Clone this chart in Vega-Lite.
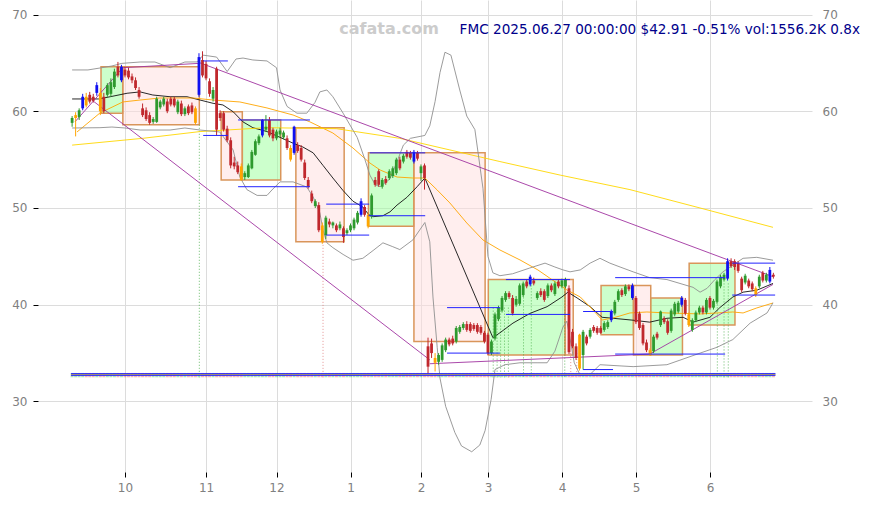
{
"$schema": "https://vega.github.io/schema/vega-lite/v6.json",
"width": 774, "height": 472,
"autosize": {"type": "none"},
"padding": {"left": 38, "top": 0, "right": 58, "bottom": 35},
"background": "white",
"config": {"view": {"stroke": null}, "font": "DejaVu Sans", "scale": {"continuousPadding": 0}},
"datasets": {
"candles": [
{"i":0,"o":58.8,"h":59.5,"l":58.4,"c":59.3,"t":"up"},
{"i":1,"o":59.3,"h":59.9,"l":57.4,"c":59.6,"t":"orange"},
{"i":2,"o":59.4,"h":60.3,"l":59.1,"c":60.1,"t":"up"},
{"i":3,"o":60.3,"h":61.8,"l":60.1,"c":61.5,"t":"blue"},
{"i":4,"o":61.5,"h":61.9,"l":60.4,"c":60.6,"t":"orange"},
{"i":5,"o":61.7,"h":62.0,"l":60.8,"c":61.0,"t":"down"},
{"i":6,"o":61.5,"h":61.8,"l":60.9,"c":61.1,"t":"down"},
{"i":7,"o":61.9,"h":63.0,"l":61.6,"c":62.7,"t":"blue"},
{"i":8,"o":61.9,"h":62.4,"l":59.6,"c":60.0,"t":"orange"},
{"i":9,"o":61.5,"h":61.9,"l":59.8,"c":60.0,"t":"down"},
{"i":10,"o":61.7,"h":62.9,"l":61.5,"c":62.7,"t":"up"},
{"i":11,"o":61.8,"h":63.4,"l":61.5,"c":63.0,"t":"up"},
{"i":12,"o":62.5,"h":64.4,"l":62.3,"c":64.1,"t":"up"},
{"i":13,"o":64.6,"h":65.1,"l":63.5,"c":63.7,"t":"down"},
{"i":14,"o":63.2,"h":64.8,"l":63.0,"c":64.6,"t":"blue"},
{"i":15,"o":64.3,"h":64.6,"l":63.5,"c":63.7,"t":"down"},
{"i":16,"o":64.2,"h":64.5,"l":63.3,"c":63.5,"t":"down"},
{"i":17,"o":63.6,"h":63.9,"l":62.9,"c":63.2,"t":"down"},
{"i":18,"o":63.2,"h":63.5,"l":62.2,"c":62.4,"t":"down"},
{"i":19,"o":62.2,"h":62.5,"l":61.3,"c":61.5,"t":"down"},
{"i":20,"o":60.3,"h":60.8,"l":59.4,"c":59.6,"t":"down"},
{"i":21,"o":60.1,"h":60.4,"l":59.0,"c":59.2,"t":"down"},
{"i":22,"o":59.6,"h":59.9,"l":58.6,"c":58.8,"t":"down"},
{"i":23,"o":58.9,"h":59.4,"l":58.7,"c":59.2,"t":"up"},
{"i":24,"o":58.9,"h":61.5,"l":58.8,"c":61.3,"t":"up"},
{"i":25,"o":60.4,"h":61.2,"l":60.2,"c":61.0,"t":"up"},
{"i":26,"o":60.7,"h":61.5,"l":60.5,"c":61.3,"t":"up"},
{"i":27,"o":61.0,"h":61.3,"l":59.8,"c":60.0,"t":"down"},
{"i":28,"o":61.3,"h":61.5,"l":60.5,"c":60.7,"t":"down"},
{"i":29,"o":61.3,"h":61.5,"l":60.4,"c":60.6,"t":"down"},
{"i":30,"o":59.9,"h":61.2,"l":59.7,"c":61.0,"t":"up"},
{"i":31,"o":60.8,"h":61.1,"l":59.5,"c":59.7,"t":"down"},
{"i":32,"o":59.7,"h":60.5,"l":59.5,"c":60.3,"t":"up"},
{"i":33,"o":60.5,"h":60.7,"l":59.6,"c":59.8,"t":"down"},
{"i":34,"o":60.6,"h":60.9,"l":59.7,"c":59.9,"t":"down"},
{"i":35,"o":60.3,"h":60.5,"l":58.6,"c":58.8,"t":"orange"},
{"i":36,"o":61.7,"h":66.0,"l":61.5,"c":65.6,"t":"blue"},
{"i":37,"o":65.3,"h":66.2,"l":63.5,"c":63.7,"t":"down"},
{"i":38,"o":64.9,"h":65.2,"l":63.2,"c":63.4,"t":"down"},
{"i":39,"o":63.1,"h":63.4,"l":61.5,"c":61.8,"t":"down"},
{"i":40,"o":61.3,"h":62.5,"l":61.0,"c":62.2,"t":"up"},
{"i":41,"o":64.4,"h":64.6,"l":57.5,"c":58.1,"t":"down"},
{"i":42,"o":59.8,"h":60.1,"l":59.0,"c":59.3,"t":"down"},
{"i":43,"o":59.8,"h":60.0,"l":57.9,"c":58.1,"t":"down"},
{"i":44,"o":58.2,"h":58.5,"l":56.8,"c":57.0,"t":"down"},
{"i":45,"o":57.0,"h":57.3,"l":54.1,"c":54.4,"t":"down"},
{"i":46,"o":54.7,"h":55.3,"l":54.0,"c":54.3,"t":"down"},
{"i":47,"o":54.4,"h":54.8,"l":53.5,"c":53.7,"t":"down"},
{"i":48,"o":54.3,"h":54.6,"l":52.8,"c":52.9,"t":"orange"},
{"i":49,"o":53.2,"h":53.8,"l":52.9,"c":53.6,"t":"up"},
{"i":50,"o":53.2,"h":54.6,"l":53.1,"c":54.4,"t":"up"},
{"i":51,"o":54.1,"h":56.0,"l":54.0,"c":55.8,"t":"up"},
{"i":52,"o":55.5,"h":57.1,"l":55.4,"c":56.9,"t":"up"},
{"i":53,"o":56.7,"h":57.6,"l":56.5,"c":57.4,"t":"up"},
{"i":54,"o":57.5,"h":59.2,"l":57.3,"c":59.1,"t":"blue"},
{"i":55,"o":58.1,"h":59.6,"l":57.9,"c":58.4,"t":"up"},
{"i":56,"o":59.1,"h":59.4,"l":57.3,"c":57.5,"t":"down"},
{"i":57,"o":58.1,"h":58.3,"l":56.9,"c":57.2,"t":"down"},
{"i":58,"o":57.2,"h":58.1,"l":57.0,"c":57.9,"t":"up"},
{"i":59,"o":57.6,"h":58.3,"l":57.3,"c":58.0,"t":"up"},
{"i":60,"o":57.3,"h":58.0,"l":57.1,"c":57.8,"t":"up"},
{"i":61,"o":57.2,"h":57.5,"l":56.0,"c":56.2,"t":"down"},
{"i":62,"o":56.2,"h":56.5,"l":54.8,"c":55.0,"t":"orange"},
{"i":63,"o":55.7,"h":58.5,"l":55.5,"c":58.4,"t":"blue"},
{"i":64,"o":56.5,"h":56.8,"l":55.7,"c":55.9,"t":"down"},
{"i":65,"o":56.2,"h":56.5,"l":54.8,"c":55.0,"t":"down"},
{"i":66,"o":54.7,"h":55.0,"l":52.9,"c":53.1,"t":"down"},
{"i":67,"o":52.9,"h":53.2,"l":52.0,"c":52.2,"t":"down"},
{"i":68,"o":51.5,"h":51.8,"l":50.5,"c":50.7,"t":"down"},
{"i":69,"o":50.2,"h":50.9,"l":50.0,"c":50.7,"t":"up"},
{"i":70,"o":50.3,"h":50.6,"l":47.5,"c":47.7,"t":"down"},
{"i":71,"o":48.2,"h":48.5,"l":46.3,"c":46.5,"t":"orange"},
{"i":72,"o":47.2,"h":49.2,"l":46.8,"c":49.0,"t":"up"},
{"i":73,"o":48.6,"h":48.9,"l":48.0,"c":48.3,"t":"down"},
{"i":74,"o":48.2,"h":48.6,"l":47.9,"c":48.5,"t":"up"},
{"i":75,"o":48.2,"h":48.4,"l":47.5,"c":47.7,"t":"down"},
{"i":76,"o":47.9,"h":48.6,"l":47.7,"c":48.3,"t":"up"},
{"i":77,"o":47.9,"h":48.1,"l":46.4,"c":47.0,"t":"down"},
{"i":78,"o":47.4,"h":47.9,"l":47.2,"c":47.7,"t":"up"},
{"i":79,"o":47.7,"h":48.4,"l":47.5,"c":48.2,"t":"up"},
{"i":80,"o":47.9,"h":49.0,"l":47.7,"c":48.8,"t":"up"},
{"i":81,"o":48.5,"h":49.7,"l":48.3,"c":49.5,"t":"up"},
{"i":82,"o":49.3,"h":51.0,"l":49.1,"c":50.7,"t":"blue"},
{"i":83,"o":50.1,"h":50.3,"l":49.1,"c":49.3,"t":"down"},
{"i":84,"o":49.3,"h":49.5,"l":47.9,"c":48.1,"t":"orange"},
{"i":85,"o":49.1,"h":51.5,"l":48.9,"c":51.3,"t":"up"},
{"i":86,"o":52.9,"h":53.2,"l":52.2,"c":52.4,"t":"down"},
{"i":87,"o":53.8,"h":54.0,"l":52.2,"c":52.4,"t":"down"},
{"i":88,"o":52.2,"h":53.1,"l":52.0,"c":52.9,"t":"up"},
{"i":89,"o":53.0,"h":53.3,"l":52.4,"c":52.6,"t":"down"},
{"i":90,"o":53.1,"h":54.0,"l":52.9,"c":53.8,"t":"up"},
{"i":91,"o":53.3,"h":54.3,"l":53.1,"c":54.1,"t":"up"},
{"i":92,"o":53.6,"h":55.2,"l":53.4,"c":55.0,"t":"up"},
{"i":93,"o":55.0,"h":55.3,"l":53.9,"c":54.1,"t":"down"},
{"i":94,"o":54.8,"h":55.6,"l":54.6,"c":55.4,"t":"up"},
{"i":95,"o":55.8,"h":56.0,"l":55.1,"c":55.3,"t":"down"},
{"i":96,"o":55.7,"h":55.9,"l":55.0,"c":55.2,"t":"down"},
{"i":97,"o":54.8,"h":56.0,"l":54.6,"c":55.8,"t":"blue"},
{"i":98,"o":55.7,"h":55.9,"l":54.9,"c":55.1,"t":"down"},
{"i":99,"o":53.6,"h":54.5,"l":52.8,"c":54.3,"t":"up"},
{"i":100,"o":54.4,"h":54.6,"l":51.9,"c":53.1,"t":"down"},
{"i":101,"o":35.7,"h":36.6,"l":32.9,"c":33.6,"t":"down"},
{"i":102,"o":36.0,"h":36.5,"l":34.5,"c":35.0,"t":"down"},
{"i":103,"o":34.5,"h":35.0,"l":33.1,"c":34.0,"t":"orange"},
{"i":104,"o":34.1,"h":35.0,"l":33.8,"c":34.8,"t":"up"},
{"i":105,"o":34.3,"h":36.0,"l":34.1,"c":35.8,"t":"up"},
{"i":106,"o":35.3,"h":36.6,"l":35.1,"c":36.4,"t":"up"},
{"i":107,"o":36.4,"h":36.6,"l":35.7,"c":35.9,"t":"down"},
{"i":108,"o":36.5,"h":36.8,"l":35.8,"c":36.0,"t":"down"},
{"i":109,"o":36.2,"h":37.8,"l":36.0,"c":37.6,"t":"up"},
{"i":110,"o":37.2,"h":37.9,"l":37.0,"c":37.7,"t":"up"},
{"i":111,"o":37.6,"h":38.2,"l":37.4,"c":38.0,"t":"up"},
{"i":112,"o":38.0,"h":38.3,"l":37.2,"c":37.4,"t":"down"},
{"i":113,"o":38.0,"h":38.2,"l":37.1,"c":37.3,"t":"down"},
{"i":114,"o":37.9,"h":38.1,"l":37.3,"c":37.5,"t":"down"},
{"i":115,"o":37.9,"h":38.1,"l":37.0,"c":37.2,"t":"down"},
{"i":116,"o":37.7,"h":37.9,"l":36.9,"c":37.1,"t":"down"},
{"i":117,"o":37.1,"h":37.3,"l":36.0,"c":36.2,"t":"down"},
{"i":118,"o":36.9,"h":37.1,"l":34.8,"c":35.0,"t":"down"},
{"i":119,"o":35.0,"h":36.4,"l":34.8,"c":36.2,"t":"up"},
{"i":120,"o":36.5,"h":39.2,"l":36.3,"c":39.0,"t":"up"},
{"i":121,"o":38.5,"h":39.9,"l":38.3,"c":39.7,"t":"up"},
{"i":122,"o":39.4,"h":40.9,"l":39.2,"c":40.7,"t":"up"},
{"i":123,"o":40.5,"h":41.4,"l":40.3,"c":41.2,"t":"up"},
{"i":124,"o":41.2,"h":41.4,"l":40.6,"c":40.8,"t":"down"},
{"i":125,"o":40.7,"h":41.0,"l":38.9,"c":39.1,"t":"down"},
{"i":126,"o":40.0,"h":40.9,"l":39.8,"c":40.6,"t":"up"},
{"i":127,"o":40.1,"h":42.2,"l":39.9,"c":42.0,"t":"up"},
{"i":128,"o":41.0,"h":42.4,"l":40.8,"c":42.2,"t":"up"},
{"i":129,"o":42.4,"h":42.6,"l":41.7,"c":41.9,"t":"down"},
{"i":130,"o":42.1,"h":43.1,"l":41.9,"c":42.9,"t":"blue"},
{"i":131,"o":42.5,"h":42.8,"l":42.0,"c":42.2,"t":"down"},
{"i":132,"o":40.7,"h":41.4,"l":40.5,"c":41.2,"t":"up"},
{"i":133,"o":41.4,"h":41.7,"l":40.8,"c":41.0,"t":"down"},
{"i":134,"o":41.4,"h":41.6,"l":40.3,"c":40.5,"t":"down"},
{"i":135,"o":40.9,"h":42.2,"l":40.7,"c":42.0,"t":"up"},
{"i":136,"o":42.0,"h":42.2,"l":41.3,"c":41.5,"t":"down"},
{"i":137,"o":41.1,"h":42.4,"l":40.9,"c":42.2,"t":"up"},
{"i":138,"o":42.4,"h":42.6,"l":41.7,"c":41.9,"t":"down"},
{"i":139,"o":41.9,"h":42.7,"l":41.7,"c":42.5,"t":"up"},
{"i":140,"o":41.9,"h":42.8,"l":41.7,"c":42.6,"t":"up"},
{"i":141,"o":41.7,"h":42.0,"l":34.9,"c":35.1,"t":"down"},
{"i":142,"o":37.2,"h":37.5,"l":35.5,"c":35.7,"t":"down"},
{"i":143,"o":35.7,"h":36.0,"l":34.3,"c":34.5,"t":"down"},
{"i":144,"o":36.9,"h":37.0,"l":33.2,"c":33.4,"t":"orange"},
{"i":145,"o":34.8,"h":37.4,"l":33.3,"c":37.2,"t":"up"},
{"i":146,"o":36.7,"h":36.9,"l":35.8,"c":36.0,"t":"down"},
{"i":147,"o":36.7,"h":37.6,"l":36.5,"c":37.4,"t":"up"},
{"i":148,"o":37.7,"h":37.9,"l":37.1,"c":37.3,"t":"down"},
{"i":149,"o":37.6,"h":37.8,"l":36.9,"c":37.1,"t":"down"},
{"i":150,"o":37.6,"h":37.8,"l":37.0,"c":37.1,"t":"down"},
{"i":151,"o":37.4,"h":38.3,"l":37.2,"c":38.1,"t":"up"},
{"i":152,"o":37.7,"h":38.4,"l":37.5,"c":38.2,"t":"up"},
{"i":153,"o":38.4,"h":39.5,"l":38.2,"c":39.3,"t":"blue"},
{"i":154,"o":39.1,"h":40.5,"l":38.9,"c":40.3,"t":"up"},
{"i":155,"o":40.5,"h":41.6,"l":40.3,"c":41.4,"t":"up"},
{"i":156,"o":41.5,"h":41.7,"l":40.8,"c":41.0,"t":"down"},
{"i":157,"o":41.1,"h":42.1,"l":40.9,"c":41.9,"t":"up"},
{"i":158,"o":41.9,"h":42.1,"l":41.4,"c":41.6,"t":"down"},
{"i":159,"o":40.7,"h":42.2,"l":40.5,"c":42.0,"t":"blue"},
{"i":160,"o":40.7,"h":40.9,"l":38.0,"c":38.2,"t":"down"},
{"i":161,"o":39.1,"h":39.3,"l":37.4,"c":37.6,"t":"down"},
{"i":162,"o":37.9,"h":38.1,"l":35.8,"c":36.0,"t":"down"},
{"i":163,"o":36.1,"h":36.4,"l":35.1,"c":35.3,"t":"down"},
{"i":164,"o":35.3,"h":35.5,"l":34.7,"c":34.8,"t":"orange"},
{"i":165,"o":35.2,"h":36.9,"l":35.0,"c":36.7,"t":"up"},
{"i":166,"o":37.0,"h":37.2,"l":36.4,"c":36.6,"t":"down"},
{"i":167,"o":37.9,"h":39.4,"l":37.7,"c":39.3,"t":"up"},
{"i":168,"o":38.6,"h":38.8,"l":38.0,"c":38.2,"t":"down"},
{"i":169,"o":38.3,"h":38.5,"l":36.9,"c":37.1,"t":"down"},
{"i":170,"o":37.3,"h":39.6,"l":37.1,"c":39.4,"t":"up"},
{"i":171,"o":39.0,"h":40.3,"l":38.8,"c":40.1,"t":"up"},
{"i":172,"o":39.3,"h":40.4,"l":39.1,"c":40.2,"t":"up"},
{"i":173,"o":40.0,"h":40.9,"l":39.8,"c":40.7,"t":"blue"},
{"i":174,"o":40.5,"h":40.7,"l":38.9,"c":39.1,"t":"down"},
{"i":175,"o":39.0,"h":39.2,"l":37.7,"c":37.9,"t":"orange"},
{"i":176,"o":37.4,"h":38.6,"l":37.2,"c":38.4,"t":"up"},
{"i":177,"o":38.4,"h":39.4,"l":38.2,"c":39.2,"t":"up"},
{"i":178,"o":39.2,"h":39.9,"l":39.0,"c":39.7,"t":"up"},
{"i":179,"o":39.7,"h":39.9,"l":39.0,"c":39.2,"t":"down"},
{"i":180,"o":39.2,"h":40.7,"l":39.0,"c":40.5,"t":"up"},
{"i":181,"o":40.7,"h":40.9,"l":39.5,"c":39.7,"t":"down"},
{"i":182,"o":39.7,"h":40.6,"l":39.5,"c":40.4,"t":"up"},
{"i":183,"o":40.3,"h":42.6,"l":40.1,"c":42.4,"t":"up"},
{"i":184,"o":41.9,"h":43.1,"l":41.7,"c":42.9,"t":"up"},
{"i":185,"o":42.6,"h":43.3,"l":42.4,"c":43.1,"t":"up"},
{"i":186,"o":42.7,"h":44.8,"l":42.5,"c":44.5,"t":"blue"},
{"i":187,"o":44.5,"h":44.8,"l":43.8,"c":44.0,"t":"down"},
{"i":188,"o":44.5,"h":44.7,"l":43.6,"c":43.9,"t":"down"},
{"i":189,"o":44.3,"h":44.5,"l":43.3,"c":43.5,"t":"down"},
{"i":190,"o":42.7,"h":42.9,"l":41.3,"c":41.5,"t":"down"},
{"i":191,"o":42.3,"h":43.2,"l":42.1,"c":43.0,"t":"up"},
{"i":192,"o":42.5,"h":42.7,"l":41.7,"c":41.9,"t":"down"},
{"i":193,"o":42.2,"h":42.4,"l":41.4,"c":41.6,"t":"down"},
{"i":194,"o":41.7,"h":41.9,"l":40.8,"c":41.0,"t":"orange"},
{"i":195,"o":41.9,"h":43.1,"l":41.7,"c":42.9,"t":"up"},
{"i":196,"o":43.3,"h":43.5,"l":42.3,"c":42.5,"t":"down"},
{"i":197,"o":42.5,"h":43.3,"l":42.3,"c":43.1,"t":"up"},
{"i":198,"o":42.4,"h":43.9,"l":42.2,"c":43.6,"t":"blue"},
{"i":199,"o":43.1,"h":43.3,"l":42.7,"c":42.91,"t":"down"}
],
"lines": [
{"s":"ma","i":0,"v":61.27},{"s":"ma","i":7.5,"v":61.27},{"s":"ma","i":10.8,"v":61.5},{"s":"ma","i":15.6,"v":61.86},{"s":"ma","i":19.3,"v":62.0},{"s":"ma","i":22.9,"v":61.68},{"s":"ma","i":27.8,"v":61.5},{"s":"ma","i":32.6,"v":61.5},{"s":"ma","i":36.3,"v":61.16},{"s":"ma","i":40,"v":60.82},{"s":"ma","i":42.8,"v":60.65},{"s":"ma","i":45.7,"v":59.95},{"s":"ma","i":48.5,"v":58.9},{"s":"ma","i":51.3,"v":58.3},{"s":"ma","i":55.3,"v":57.9},{"s":"ma","i":59,"v":57.3},{"s":"ma","i":62.7,"v":56.7},{"s":"ma","i":65.5,"v":56.3},{"s":"ma","i":68.4,"v":55.7},{"s":"ma","i":71.2,"v":54.4},{"s":"ma","i":74,"v":53.1},{"s":"ma","i":76.9,"v":51.8},{"s":"ma","i":79.7,"v":50.7},{"s":"ma","i":82.5,"v":50.1},{"s":"ma","i":84.2,"v":49.3},{"s":"ma","i":85.4,"v":49.1},{"s":"ma","i":88.2,"v":49.2},{"s":"ma","i":90.2,"v":49.6},{"s":"ma","i":92.2,"v":50.3},{"s":"ma","i":95,"v":51.1},{"s":"ma","i":97.9,"v":52.2},{"s":"ma","i":100.1,"v":53.1},{"s":"ma","i":119.4,"v":36.6},{"s":"ma","i":121.4,"v":37.1},{"s":"ma","i":125.1,"v":38.1},{"s":"ma","i":129.9,"v":39.1},{"s":"ma","i":134.8,"v":39.8},{"s":"ma","i":139,"v":40.8},{"s":"ma","i":140.7,"v":41.3},{"s":"ma","i":143.3,"v":40.7},{"s":"ma","i":147,"v":39.8},{"s":"ma","i":150.4,"v":38.7},{"s":"ma","i":153.5,"v":38.6},{"s":"ma","i":159.2,"v":38.4},{"s":"ma","i":163.9,"v":38.2},{"s":"ma","i":168.8,"v":38.6},{"s":"ma","i":173.4,"v":38.7},{"s":"ma","i":176.2,"v":38.2},{"s":"ma","i":181,"v":38.7},{"s":"ma","i":183.8,"v":39.7},{"s":"ma","i":187.5,"v":40.8},{"s":"ma","i":190.4,"v":41.3},{"s":"ma","i":194.3,"v":41.5},{"s":"ma","i":198.9,"v":42.2},
{"s":"mb","i":1.4,"v":57.86},{"s":"mb","i":7.9,"v":59.82},{"s":"mb","i":14.4,"v":60.96},{"s":"mb","i":19.3,"v":61.16},{"s":"mb","i":24.9,"v":61.37},{"s":"mb","i":34.3,"v":61.37},{"s":"mb","i":40,"v":61.16},{"s":"mb","i":47.6,"v":60.96},{"s":"mb","i":55.3,"v":60.34},{"s":"mb","i":62.7,"v":59.61},{"s":"mb","i":67.5,"v":58.9},{"s":"mb","i":74,"v":57.75},{"s":"mb","i":79.7,"v":56.2},{"s":"mb","i":84.5,"v":54.65},{"s":"mb","i":87.4,"v":53.93},{"s":"mb","i":92.2,"v":53.2},{"s":"mb","i":96.7,"v":53.1},{"s":"mb","i":100.1,"v":53.1},{"s":"mb","i":103.6,"v":51.86},{"s":"mb","i":107.2,"v":50.52},{"s":"mb","i":112,"v":48.45},{"s":"mb","i":116.6,"v":46.69},{"s":"mb","i":121.4,"v":45.66},{"s":"mb","i":127.1,"v":44.63},{"s":"mb","i":132.2,"v":43.59},{"s":"mb","i":140.4,"v":41.53},{"s":"mb","i":144.2,"v":40.8},{"s":"mb","i":147,"v":39.77},{"s":"mb","i":150.4,"v":38.42},{"s":"mb","i":153.5,"v":38.63},{"s":"mb","i":158.3,"v":39.15},{"s":"mb","i":163.1,"v":39.25},{"s":"mb","i":168.8,"v":39.15},{"s":"mb","i":178.2,"v":39.05},{"s":"mb","i":183,"v":39.15},{"s":"mb","i":187.5,"v":39.25},{"s":"mb","i":190.4,"v":39.15},{"s":"mb","i":194.3,"v":39.67},{"s":"mb","i":198.9,"v":40.18},
{"s":"mc","i":0,"v":56.5},{"s":"mc","i":20,"v":57.2},{"s":"mc","i":36.3,"v":57.9},{"s":"mc","i":55,"v":58.3},{"s":"mc","i":75,"v":58.2},{"s":"mc","i":93,"v":57.2},{"s":"mc","i":107.2,"v":56.0},{"s":"mc","i":121.4,"v":54.8},{"s":"mc","i":138.5,"v":53.4},{"s":"mc","i":158.3,"v":51.9},{"s":"mc","i":178.2,"v":50.0},{"s":"mc","i":198.9,"v":48.0},
{"s":"bu","i":0,"v":64.27},{"s":"bu","i":4.5,"v":64.27},{"s":"bu","i":7.9,"v":64.47},{"s":"bu","i":11.3,"v":64.68},{"s":"bu","i":14.1,"v":64.95},{"s":"bu","i":19.3,"v":65.09},{"s":"bu","i":23.5,"v":65.09},{"s":"bu","i":27.8,"v":64.5},{"s":"bu","i":32,"v":65.09},{"s":"bu","i":35.5,"v":65.1},{"s":"bu","i":37.2,"v":65.8},{"s":"bu","i":41,"v":65.6},{"s":"bu","i":44,"v":64.1},{"s":"bu","i":46.5,"v":65.4},{"s":"bu","i":48.5,"v":65.5},{"s":"bu","i":51.3,"v":65.3},{"s":"bu","i":55.3,"v":65.2},{"s":"bu","i":58,"v":64.5},{"s":"bu","i":59,"v":62.2},{"s":"bu","i":61,"v":60.5},{"s":"bu","i":63.8,"v":59.8},{"s":"bu","i":66.6,"v":59.8},{"s":"bu","i":68.9,"v":60.9},{"s":"bu","i":70.3,"v":62.0},{"s":"bu","i":72.3,"v":62.2},{"s":"bu","i":74,"v":61.5},{"s":"bu","i":76.9,"v":59.8},{"s":"bu","i":80.9,"v":57.3},{"s":"bu","i":83.1,"v":55.0},{"s":"bu","i":84.5,"v":53.4},{"s":"bu","i":86,"v":52.4},{"s":"bu","i":87.4,"v":52.2},{"s":"bu","i":90.2,"v":53.0},{"s":"bu","i":92.2,"v":54.8},{"s":"bu","i":94,"v":56.5},{"s":"bu","i":96,"v":57.2},{"s":"bu","i":100.1,"v":57.5},{"s":"bu","i":101.5,"v":58.5},{"s":"bu","i":103,"v":61},{"s":"bu","i":104.4,"v":64},{"s":"bu","i":105.8,"v":66.1},{"s":"bu","i":107.5,"v":65.8},{"s":"bu","i":110,"v":62.2},{"s":"bu","i":112,"v":59.5},{"s":"bu","i":114.3,"v":58.1},{"s":"bu","i":116.6,"v":52},{"s":"bu","i":118,"v":45},{"s":"bu","i":119.4,"v":43.3},{"s":"bu","i":121.4,"v":43.0},{"s":"bu","i":125,"v":43.2},{"s":"bu","i":129.9,"v":43.8},{"s":"bu","i":134.2,"v":44.3},{"s":"bu","i":137,"v":43.9},{"s":"bu","i":139.3,"v":43.6},{"s":"bu","i":141.3,"v":43.4},{"s":"bu","i":144.2,"v":43.6},{"s":"bu","i":147,"v":44.3},{"s":"bu","i":149.8,"v":44.8},{"s":"bu","i":152.6,"v":44.3},{"s":"bu","i":155.5,"v":43.9},{"s":"bu","i":159.2,"v":43.4},{"s":"bu","i":163.9,"v":42.8},{"s":"bu","i":168.8,"v":42.6},{"s":"bu","i":176.2,"v":41.8},{"s":"bu","i":178.2,"v":41.3},{"s":"bu","i":180.2,"v":41.7},{"s":"bu","i":182.4,"v":42.6},{"s":"bu","i":184.7,"v":43.4},{"s":"bu","i":187.5,"v":44.1},{"s":"bu","i":190.4,"v":44.8},{"s":"bu","i":194.3,"v":44.9},{"s":"bu","i":198.9,"v":44.6},
{"s":"bl","i":0,"v":58.27},{"s":"bl","i":7.9,"v":58.3},{"s":"bl","i":11.3,"v":58.37},{"s":"bl","i":15,"v":58.27},{"s":"bl","i":19.3,"v":58.06},{"s":"bl","i":27.8,"v":58.06},{"s":"bl","i":32,"v":58.27},{"s":"bl","i":36.3,"v":58.06},{"s":"bl","i":41.9,"v":57.86},{"s":"bl","i":45.7,"v":56.0},{"s":"bl","i":47.6,"v":53.2},{"s":"bl","i":49.6,"v":51.9},{"s":"bl","i":52.5,"v":51.3},{"s":"bl","i":55.3,"v":51.3},{"s":"bl","i":56.7,"v":51.86},{"s":"bl","i":59,"v":52.7},{"s":"bl","i":62.7,"v":52.7},{"s":"bl","i":66.6,"v":52.17},{"s":"bl","i":68.4,"v":51.14},{"s":"bl","i":70.3,"v":49.5},{"s":"bl","i":71.2,"v":47.7},{"s":"bl","i":72.3,"v":46.4},{"s":"bl","i":74,"v":45.9},{"s":"bl","i":76.9,"v":45.2},{"s":"bl","i":79.7,"v":44.6},{"s":"bl","i":82.5,"v":44.8},{"s":"bl","i":85.4,"v":45.6},{"s":"bl","i":88.2,"v":46.4},{"s":"bl","i":91,"v":46.0},{"s":"bl","i":93,"v":45.7},{"s":"bl","i":96.7,"v":46.7},{"s":"bl","i":100.1,"v":48.5},{"s":"bl","i":101.5,"v":46.5},{"s":"bl","i":102.4,"v":40.8},{"s":"bl","i":103.6,"v":35.6},{"s":"bl","i":104.4,"v":32.4},{"s":"bl","i":106,"v":29.5},{"s":"bl","i":108.6,"v":26.8},{"s":"bl","i":110.5,"v":25.4},{"s":"bl","i":113.4,"v":24.8},{"s":"bl","i":115.7,"v":25.5},{"s":"bl","i":117.2,"v":27},{"s":"bl","i":118.9,"v":30.2},{"s":"bl","i":120,"v":33.3},{"s":"bl","i":122.8,"v":33.8},{"s":"bl","i":127.1,"v":34.0},{"s":"bl","i":132.2,"v":34.0},{"s":"bl","i":134.8,"v":34.0},{"s":"bl","i":137,"v":35.2},{"s":"bl","i":139.3,"v":37.7},{"s":"bl","i":140.4,"v":38.3},{"s":"bl","i":141.3,"v":36.5},{"s":"bl","i":142.5,"v":34.0},{"s":"bl","i":144.2,"v":32.7},{"s":"bl","i":147,"v":32.8},{"s":"bl","i":149.8,"v":33.8},{"s":"bl","i":159.2,"v":33.6},{"s":"bl","i":168.8,"v":33.8},{"s":"bl","i":178.2,"v":35.0},{"s":"bl","i":183,"v":35.6},{"s":"bl","i":187.5,"v":36.4},{"s":"bl","i":192.4,"v":38.1},{"s":"bl","i":197.2,"v":39.15},{"s":"bl","i":198.9,"v":40.2},
{"s":"p1","i":0.8,"v":58.9},{"s":"p1","i":14.4,"v":64.5},
{"s":"p2","i":14.4,"v":64.5},{"s":"p2","i":36.0,"v":64.95},
{"s":"p3","i":36.3,"v":65.0},{"s":"p3","i":198.9,"v":42.9},
{"s":"p4","i":5.6,"v":61.16},{"s":"p4","i":101.5,"v":34.3},
{"s":"p5","i":101.5,"v":33.9},{"s":"p5","i":163.9,"v":34.9},{"s":"p5","i":198.9,"v":42.1}
],
"boxes": [
{"i1":8.2,"i2":14.4,"p1":59.8,"p2":64.6,"f":"g"},
{"i1":14.4,"i2":36.1,"p1":58.6,"p2":64.6,"f":"p"},
{"i1":42.3,"i2":48.3,"p1":52.9,"p2":59.95,"f":"p"},
{"i1":48.3,"i2":59.2,"p1":52.9,"p2":59.1,"f":"g"},
{"i1":63.5,"i2":77.2,"p1":46.5,"p2":58.3,"f":"p"},
{"i1":84.1,"i2":97,"p1":48.1,"p2":55.7,"f":"g"},
{"i1":97,"i2":117.2,"p1":36.2,"p2":55.7,"f":"p"},
{"i1":118.1,"i2":139.9,"p1":34.8,"p2":42.6,"f":"g"},
{"i1":139.9,"i2":142.2,"p1":34.8,"p2":42.6,"f":"p"},
{"i1":150.1,"i2":159.3,"p1":36.9,"p2":42.0,"f":"g"},
{"i1":159.3,"i2":164.2,"p1":34.8,"p2":42.0,"f":"p"},
{"i1":164.2,"i2":173.2,"p1":34.8,"p2":40.7,"f":"g"},
{"i1":175.1,"i2":188.1,"p1":37.9,"p2":44.3,"f":"g"}
],
"segs": [
{"i1":37.2,"i2":44.2,"p":65.2,"k":"b"},{"i1":37.2,"i2":44.2,"p":57.5,"k":"b"},
{"i1":47.1,"i2":67.5,"p":59.1,"k":"b"},{"i1":47.1,"i2":67.5,"p":52.2,"k":"b"},
{"i1":72.1,"i2":84.3,"p":50.4,"k":"b"},{"i1":72.1,"i2":84.3,"p":47.2,"k":"b"},
{"i1":84.5,"i2":100.2,"p":55.7,"k":"b"},{"i1":84.1,"i2":100.2,"p":49.2,"k":"b"},
{"i1":106.4,"i2":121.4,"p":39.7,"k":"b"},{"i1":106.4,"i2":121.4,"p":35.0,"k":"b"},
{"i1":123.1,"i2":141.3,"p":42.6,"k":"b"},{"i1":123.1,"i2":141.3,"p":39.0,"k":"b"},
{"i1":145,"i2":153.5,"p":39.3,"k":"b"},{"i1":145,"i2":153.5,"p":33.3,"k":"b"},
{"i1":154.1,"i2":185.3,"p":42.8,"k":"b"},{"i1":154.1,"i2":185.3,"p":34.9,"k":"b"},
{"i1":187.3,"i2":199.5,"p":44.3,"k":"b"},{"i1":187.3,"i2":199.5,"p":41.0,"k":"b"},
{"i1":-0.3,"i2":199.6,"p":32.88,"k":"b"},{"i1":-0.3,"i2":199.6,"p":32.79,"k":"o"},{"i1":-0.3,"i2":199.6,"p":32.70,"k":"b"}
],
"vl": [
{"i":36.1,"top":58.6,"k":"g"},{"i":71.2,"top":46.5,"k":"r"},
{"i":119.5,"top":39.7,"k":"g"},{"i":120.6,"top":39.7,"k":"g"},{"i":121.6,"top":39.7,"k":"g"},{"i":122.7,"top":39.7,"k":"g"},{"i":123.8,"top":39.7,"k":"g"},
{"i":128.1,"top":42.0,"k":"g"},{"i":130.3,"top":42.0,"k":"g"},{"i":139.8,"top":42.6,"k":"g"},
{"i":141.5,"top":35.0,"k":"r"},{"i":143.2,"top":35.0,"k":"r"},
{"i":183.1,"top":42.2,"k":"g"},{"i":185,"top":42.2,"k":"g"},{"i":186.2,"top":42.2,"k":"g"}
]
},
"layer": [
{
"data": {"name": "boxes"},
"mark": {"type": "rect", "fillOpacity": 0.5, "stroke": "#d9955a", "strokeWidth": 1.5},
"encoding": {
"x": {"field": "i1", "type": "quantitative", "scale": {"domain": [-9.68, 209.96], "nice": false, "zero": false, "padding": 0},
 "axis": {"orient": "bottom", "values": [15,38,58,79,99,118,139,160,181], "labelExpr": "datum.value==15?'10':datum.value==38?'11':datum.value==58?'12':datum.value==79?'1':datum.value==99?'2':datum.value==118?'3':datum.value==139?'4':datum.value==160?'5':'6'", "grid": true, "gridColor": "#dcdcdc", "domain": false, "tickColor": "#000000", "tickSize": 5, "labelColor": "#808080", "labelFontSize": 12, "labelFont": "DejaVu Sans", "labelPadding": 5, "title": null}},
"x2": {"field": "i2"},
"y": {"field": "p1", "type": "quantitative", "scale": {"domain": [22.71, 71.5], "nice": false, "zero": false},
 "axis": {"orient": "left", "values": [30,40,50,60,70], "grid": true, "gridColor": "#dcdcdc", "domain": false, "tickColor": "#000000", "tickSize": 5, "labelColor": "#808080", "labelFontSize": 12, "labelFont": "DejaVu Sans", "labelPadding": 6, "title": null}},
"y2": {"field": "p2"},
"color": {"field": "f", "type": "nominal", "scale": {"domain": ["g","p"], "range": ["#99ff99","#ffdddd"]}, "legend": null}
}
},
{
"data": {"name": "vl"},
"mark": {"type": "rule", "strokeDash": [1,2], "strokeWidth": 1, "opacity": 0.8},
"encoding": {
"x": {"field": "i", "type": "quantitative", "scale": {"domain": [-9.68, 209.96], "nice": false, "zero": false, "padding": 0}, "axis": null},
"y": {"field": "top", "type": "quantitative", "scale": {"domain": [22.71, 71.5], "nice": false, "zero": false},
 "axis": {"orient": "right", "values": [30,40,50,60,70], "grid": false, "domain": false, "ticks": false, "labelColor": "#808080", "labelFontSize": 12, "labelFont": "DejaVu Sans", "labelPadding": 10, "title": null}},
"y2": {"datum": 32.5},
"color": {"field": "k", "type": "nominal", "scale": {"domain": ["g","r"], "range": ["#44aa44","#dd7777"]}, "legend": null}
}
},
{
"data": {"name": "candles"},
"mark": {"type": "bar", "width": 3, "opacity": 0.45},
"encoding": {
"x": {"field": "i", "type": "quantitative", "scale": {"domain": [-9.68, 209.96], "nice": false, "zero": false, "padding": 0}, "axis": null},
"y": {"datum": 32.5, "type": "quantitative", "scale": {"domain": [22.71, 71.5], "nice": false, "zero": false}, "axis": null},
"y2": {"datum": 32.95},
"color": {"condition": {"test": "datum.c >= datum.o", "value": "#5cb85c"}, "value": "#e06060"}
}
},
{
"data": {"name": "lines"},
"mark": {"type": "line", "strokeWidth": 0.9},
"encoding": {
"x": {"field": "i", "type": "quantitative", "scale": {"domain": [-9.68, 209.96], "nice": false, "zero": false, "padding": 0}, "axis": null},
"y": {"field": "v", "type": "quantitative", "scale": {"domain": [22.71, 71.5], "nice": false, "zero": false}, "axis": null},
"detail": {"field": "s"},
"color": {"field": "s", "type": "nominal", "scale": {"domain": ["ma","mb","mc","bu","bl","p1","p2","p3","p4","p5"], "range": ["#111111","#ffa500","#ffd700","#909090","#909090","#a033a0","#a033a0","#a033a0","#a033a0","#a033a0"]}, "legend": null}
}
},
{
"data": {"name": "candles"},
"mark": {"type": "rule", "strokeWidth": 1},
"encoding": {
"x": {"field": "i", "type": "quantitative", "scale": {"domain": [-9.68, 209.96], "nice": false, "zero": false, "padding": 0}, "axis": null},
"y": {"field": "l", "type": "quantitative", "scale": {"domain": [22.71, 71.5], "nice": false, "zero": false}, "axis": null},
"y2": {"field": "h"},
"color": {"field": "t", "type": "nominal", "scale": {"domain": ["up","down","blue","orange"], "range": ["#2e9a2e","#c0282d","#1010f0","#ffa500"]}, "legend": null}
}
},
{
"data": {"name": "candles"},
"mark": {"type": "bar", "width": 2.8},
"encoding": {
"x": {"field": "i", "type": "quantitative", "scale": {"domain": [-9.68, 209.96], "nice": false, "zero": false, "padding": 0}, "axis": null},
"y": {"field": "o", "type": "quantitative", "scale": {"domain": [22.71, 71.5], "nice": false, "zero": false}, "axis": null},
"y2": {"field": "c"},
"color": {"field": "t", "type": "nominal", "scale": {"domain": ["up","down","blue","orange"], "range": ["#2e9a2e","#c0282d","#1010f0","#ffa500"]}, "legend": null}
}
},
{
"data": {"name": "segs"},
"mark": {"type": "rule", "strokeWidth": 1},
"encoding": {
"x": {"field": "i1", "type": "quantitative", "scale": {"domain": [-9.68, 209.96], "nice": false, "zero": false, "padding": 0}, "axis": null},
"x2": {"field": "i2"},
"y": {"field": "p", "type": "quantitative", "scale": {"domain": [22.71, 71.5], "nice": false, "zero": false}, "axis": null},
"color": {"field": "k", "type": "nominal", "scale": {"domain": ["b","o"], "range": ["#2222ff","#b8a060"]}, "legend": null}
}
},
{
"data": {"values": [{}]},
"mark": {"type": "text", "text": "cafata.com", "font": "DejaVu Sans", "fontWeight": "bold", "fontSize": 16, "color": "#cccccc", "align": "center", "baseline": "middle"},
"encoding": {
"x": {"datum": 89.95, "type": "quantitative", "scale": {"domain": [-9.68, 209.96], "nice": false, "zero": false, "padding": 0}, "axis": null},
"y": {"datum": 68.5, "type": "quantitative", "scale": {"domain": [22.71, 71.5], "nice": false, "zero": false}, "axis": null}
}
},
{
"data": {"values": [{}]},
"mark": {"type": "text", "text": "FMC 2025.06.27 00:00:00 $42.91 -0.51% vol:1556.2K 0.8x", "font": "DejaVu Sans", "fontSize": 13.6, "color": "#00008b", "align": "right", "baseline": "middle"},
"encoding": {
"x": {"datum": 223.58, "type": "quantitative", "scale": {"domain": [-9.68, 209.96], "nice": false, "zero": false, "padding": 0}, "axis": null},
"y": {"datum": 68.4, "type": "quantitative", "scale": {"domain": [22.71, 71.5], "nice": false, "zero": false}, "axis": null}
}
}
],
"resolve": {"scale": {"color": "independent"}, "axis": {"x": "independent", "y": "independent"}}
}
